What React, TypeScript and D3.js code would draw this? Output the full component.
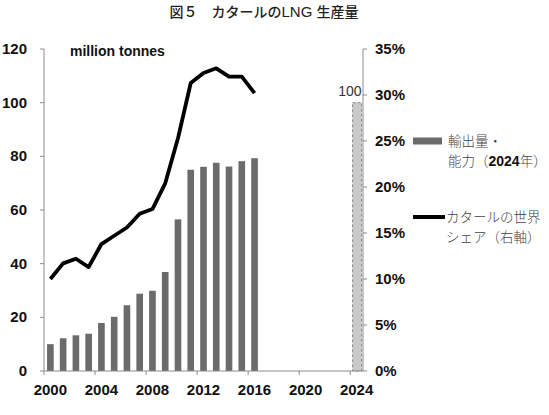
import React, { useEffect, useRef } from 'react';
import * as d3 from 'd3';

// Qatar LNG: exports (million tonnes) and share of world trade (%)
const years = [2000, 2001, 2002, 2003, 2004, 2005, 2006, 2007, 2008, 2009, 2010, 2011, 2012, 2013, 2014, 2015, 2016];
const exportsMt = [10.0, 12.2, 13.3, 13.9, 17.9, 20.2, 24.5, 28.8, 29.9, 36.9, 56.5, 75.0, 76.1, 77.6, 76.2, 78.2, 79.3];
const worldShare = [10.0, 11.7, 12.2, 11.3, 13.8, 14.7, 15.6, 17.1, 17.6, 20.4, 25.3, 31.3, 32.4, 32.9, 32.0, 32.0, 30.2];
const capacityYear = 2024;
const capacityMt = 100;

const axisYears = [2000, 2004, 2008, 2012, 2016, 2020, 2024];
const leftTicks = [0, 20, 40, 60, 80, 100, 120];
const rightTicks = [0, 5, 10, 15, 20, 25, 30, 35];

const W = 549;
const H = 415;
const NUM_FONT = '"Liberation Sans", Arial, sans-serif';
const JP_FONT = '"Noto Sans CJK JP", "Noto Sans", sans-serif';

const App = () => {
    const svgRef = useRef<SVGSVGElement>(null);

    useEffect(() => {
        const svg = d3.select(svgRef.current);
        svg.selectAll('*').remove();

        const left = 44, right = 363, top = 49, bottom = 371;

        const x = d3.scaleBand<number>()
            .domain(d3.range(2000, 2025))
            .range([left, right])
            .paddingInner(0.48)
            .paddingOuter(0.24);
        const step = x.step();
        const slotStart = (yr: number) => left + (yr - 2000) * step;
        const center = (yr: number) => slotStart(yr) + step / 2;

        const y = d3.scaleLinear().domain([0, 120]).range([bottom, top]);
        const yR = d3.scaleLinear().domain([0, 35]).range([bottom, top]);

        // title
        const title = svg.append('text')
            .attr('x', 264).attr('y', 16.5)
            .attr('text-anchor', 'middle')
            .style('font-family', JP_FONT)
            .style('font-size', '14px')
            .style('font-weight', 500)
            .style('fill', '#222');
        title.append('tspan').text('図５　カタールの');
        title.append('tspan').style('font-family', NUM_FONT).style('font-size', '15px').text('LNG ');
        title.append('tspan').text('生産量');

        // bars
        svg.append('g')
            .selectAll('rect')
            .data(years.map((yr, i) => ({ yr, v: exportsMt[i] })))
            .join('rect')
            .attr('x', d => x(d.yr)!)
            .attr('width', x.bandwidth())
            .attr('y', d => y(d.v))
            .attr('height', d => y(0) - y(d.v))
            .attr('fill', '#6b6b6b');

        // 2024 capacity bar (dashed)
        svg.append('rect')
            .attr('x', center(capacityYear) - 4)
            .attr('width', 9)
            .attr('y', y(capacityMt))
            .attr('height', y(0) - y(capacityMt))
            .attr('fill', '#c9c9c9')
            .attr('stroke', '#8a8a8a')
            .attr('stroke-width', 1)
            .attr('stroke-dasharray', '3,2');

        svg.append('text')
            .attr('x', center(capacityYear) + 5)
            .attr('y', y(capacityMt) - 7)
            .attr('text-anchor', 'end')
            .style('font-family', NUM_FONT)
            .style('font-size', '14px')
            .style('fill', '#333')
            .text(capacityMt);

        // share line
        const line = d3.line<number>()
            .x((_, i) => center(years[i]))
            .y(d => yR(d));
        svg.append('path')
            .datum(worldShare)
            .attr('d', line)
            .attr('fill', 'none')
            .attr('stroke', '#000')
            .attr('stroke-width', 3.8)
            .attr('stroke-linejoin', 'round');

        // axes
        const axisColor = '#8c8c8c';
        const ax = svg.append('g').attr('stroke', axisColor).attr('stroke-width', 1);
        ax.append('line').attr('x1', left).attr('x2', left).attr('y1', top).attr('y2', bottom);
        ax.append('line').attr('x1', right).attr('x2', right).attr('y1', top).attr('y2', bottom);
        ax.append('line').attr('x1', left).attr('x2', right).attr('y1', bottom).attr('y2', bottom);

        ax.selectAll('.lt').data(leftTicks).join('line')
            .attr('x1', left - 4).attr('x2', left).attr('y1', d => y(d)).attr('y2', d => y(d));
        ax.selectAll('.rt').data(rightTicks).join('line')
            .attr('x1', right).attr('x2', right + 4).attr('y1', d => yR(d)).attr('y2', d => yR(d));
        ax.selectAll('.xt').data(axisYears).join('line')
            .attr('x1', d => slotStart(d)).attr('x2', d => slotStart(d))
            .attr('y1', bottom).attr('y2', bottom + 4);

        const tickText = (g: d3.Selection<SVGGElement, unknown, null, undefined>) =>
            g.style('font-family', NUM_FONT)
                .style('font-size', '15px')
                .style('font-weight', 'bold')
                .style('fill', '#111');

        svg.append('g').call(tickText)
            .selectAll('text').data(leftTicks).join('text')
            .attr('x', 27).attr('y', d => y(d) + 5)
            .attr('text-anchor', 'end')
            .text(d => d);

        svg.append('g').call(tickText)
            .selectAll('text').data(rightTicks).join('text')
            .attr('x', 375).attr('y', d => yR(d) + 5)
            .text(d => `${d}%`);

        svg.append('g').call(tickText)
            .selectAll('text').data(axisYears).join('text')
            .attr('x', d => center(d)).attr('y', 395)
            .attr('text-anchor', 'middle')
            .text(d => d);

        svg.append('text')
            .attr('x', 70).attr('y', 56)
            .style('font-family', NUM_FONT)
            .style('font-size', '14px')
            .style('font-weight', 'bold')
            .style('fill', '#111')
            .text('million tonnes');

        // legend
        const lg = svg.append('g')
            .style('font-family', JP_FONT)
            .style('font-size', '13.5px')
            .style('font-weight', 300)
            .style('fill', '#444');

        lg.append('rect')
            .attr('x', 413).attr('y', yR(25) - 3.5)
            .attr('width', 29).attr('height', 7)
            .attr('fill', '#6b6b6b');
        lg.append('text').attr('x', 448).attr('y', yR(25) + 5).text('輸出量・');
        const l2 = lg.append('text').attr('x', 448).attr('y', yR(25) + 25);
        l2.append('tspan').text('能力（');
        l2.append('tspan').style('font-weight', 'bold').style('font-family', NUM_FONT).style('font-size', '14px').style('fill', '#111').text('2024');
        l2.append('tspan').text('年）');

        lg.append('rect')
            .attr('x', 413).attr('y', 215)
            .attr('width', 32).attr('height', 4)
            .attr('fill', '#000');
        lg.append('text').attr('x', 446).attr('y', 222).text('カタールの世界');
        lg.append('text').attr('x', 446).attr('y', 242).text('シェア（右軸）');
    }, []);

    return (
        <svg
            ref={svgRef}
            width={W}
            height={H}
            style={{ position: 'absolute', left: 0, top: 0, background: '#fff' }}
        />
    );
};

export default App;
